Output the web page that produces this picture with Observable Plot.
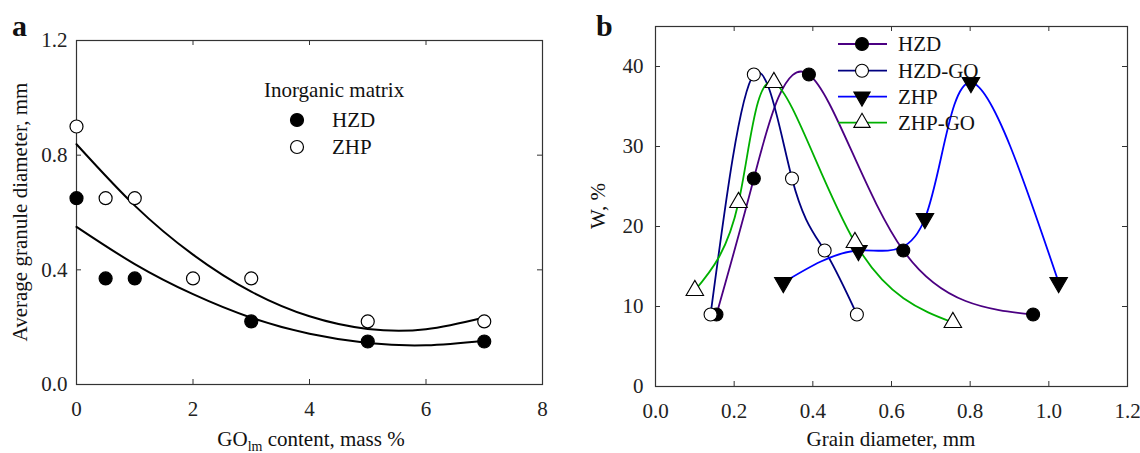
<!DOCTYPE html>
<html>
<head>
<meta charset="utf-8">
<script src="https://cdn.jsdelivr.net/npm/d3@7"></script>
<script src="https://cdn.jsdelivr.net/npm/@observablehq/plot@0.6"></script>
<style>
  html, body { margin: 0; padding: 0; background: #fff; }
  #wrap { display: flex; width: 1140px; height: 453px; }
  svg text { font-family: "Liberation Serif", "Times New Roman", serif; }
</style>
</head>
<body>
<div id="wrap"></div>
<script>
// ---------- Panel a data ----------
const aTicksX = [0, 2, 4, 6, 8];
const aTicksY = [0, 0.4, 0.8, 1.2];
const aHZD_x = [0, 0.5, 1, 3, 5, 7];
const aHZD_y = [0.65, 0.37, 0.37, 0.22, 0.15, 0.15];
const aZHP_x = [0, 0.5, 1, 2, 3, 5, 7];
const aZHP_y = [0.90, 0.65, 0.65, 0.37, 0.37, 0.22, 0.22];
// fitted trend curves
const fitX = [0, 1, 2, 3, 4, 5, 6, 7];
const fitHZD = [0.55, 0.42, 0.315, 0.233, 0.177, 0.145, 0.137, 0.153];
const fitZHP = [0.838, 0.624, 0.453, 0.324, 0.238, 0.194, 0.193, 0.234];

// ---------- Panel b data ----------
const bSeries = ["HZD", "HZD-GO", "ZHP", "ZHP-GO"];
const bTicksX = [0, 0.2, 0.4, 0.6, 0.8, 1.0, 1.2];
const bTicksY = [0, 10, 20, 30, 40];
const bHZD_x = [0.155, 0.25, 0.39, 0.63, 0.96];
const bHZD_y = [9, 26, 39, 17, 9];
const bHZDGO_x = [0.14, 0.25, 0.347, 0.43, 0.512];
const bHZDGO_y = [9, 39, 26, 17, 9];
const bZHP_x = [0.325, 0.516, 0.685, 0.802, 1.025];
const bZHP_y = [13, 17, 21, 38, 13];
const bZHPGO_x = [0.10, 0.211, 0.301, 0.507, 0.756];
const bZHPGO_y = [12, 23, 38, 18, 8];

const bColors = {"HZD": "#4B0082", "HZD-GO": "#000080", "ZHP": "#0000FF", "ZHP-GO": "#00B000"};
const bSymbols = {"HZD": "circle", "HZD-GO": "circle", "ZHP": "triangle", "ZHP-GO": "triangle"};
const bFill = {"HZD": "black", "HZD-GO": "white", "ZHP": "black", "ZHP-GO": "white"};
const bRotate = {"HZD": 0, "HZD-GO": 0, "ZHP": 180, "ZHP-GO": 0};

const zip = (xs, ys, extra) => xs.map((x, i) => ({x, y: ys[i], ...extra}));

const aPts = [...zip(aHZD_x, aHZD_y, {s: "HZD"}), ...zip(aZHP_x, aZHP_y, {s: "ZHP"})];
const aFit = [...zip(fitX, fitHZD, {s: "HZD"}), ...zip(fitX, fitZHP, {s: "ZHP"})];

const bData = [
  ...zip(bHZD_x, bHZD_y, {s: "HZD"}),
  ...zip(bHZDGO_x, bHZDGO_y, {s: "HZD-GO"}),
  ...zip(bZHP_x, bZHP_y, {s: "ZHP"}),
  ...zip(bZHPGO_x, bZHPGO_y, {s: "ZHP-GO"})
];

const FONT = "Liberation Serif, Times New Roman, serif";
const W = 570, H = 453;

function frameMarks(xt, yt, innerH, innerW, xfmt, yfmt, xpad, ypad) {
  const T = 5;
  return [
    Plot.frame({stroke: "#333", strokeWidth: 1.2}),
    Plot.tickX(xt, {x: d => d, insetTop: innerH - T, stroke: "#333"}),
    Plot.tickX(xt, {x: d => d, insetBottom: innerH - T, stroke: "#333"}),
    Plot.tickY(yt, {y: d => d, insetRight: innerW - T, stroke: "#333"}),
    Plot.tickY(yt, {y: d => d, insetLeft: innerW - T, stroke: "#333"}),
    Plot.axisX({ticks: xt, tickSize: 0, tickPadding: xpad, tickFormat: xfmt, label: null, fill: "#222"}),
    Plot.axisY({ticks: yt, tickSize: 0, tickPadding: ypad, tickFormat: yfmt, label: null, fill: "#222"})
  ];
}

// ---------- Panel a ----------
const aM = {left: 76, right: 28, top: 40, bottom: 69};
const aPlot = Plot.plot({
  width: W, height: H,
  marginLeft: aM.left, marginRight: aM.right, marginTop: aM.top, marginBottom: aM.bottom,
  style: {fontFamily: FONT, fontSize: "21px", background: "white", color: "#222", overflow: "visible"},
  x: {domain: [0, 8]},
  y: {domain: [0, 1.2]},
  marks: [
    ...frameMarks(aTicksX, aTicksY, H - aM.top - aM.bottom, W - aM.left - aM.right,
      d3.format("d"), d3.format(".1f"), 17, 9),
    Plot.line(aFit, {x: "x", y: "y", z: "s", curve: "natural", stroke: "black", strokeWidth: 2}),
    Plot.dot(aPts, {x: "x", y: "y", r: 6.5, stroke: "black", strokeWidth: 1.2,
      fill: d => d.s === "HZD" ? "black" : "white"})
  ]
});

// ---------- Panel b ----------
const bM = {left: 85, right: 13, top: 26, bottom: 67};
const bPlot = Plot.plot({
  width: W, height: H,
  marginLeft: bM.left, marginRight: bM.right, marginTop: bM.top, marginBottom: bM.bottom,
  style: {fontFamily: FONT, fontSize: "21px", background: "white", color: "#222", overflow: "visible"},
  x: {domain: [0, 1.2]},
  y: {domain: [0, 45]},
  marks: [
    ...frameMarks(bTicksX, bTicksY, H - bM.top - bM.bottom, W - bM.left - bM.right,
      d3.format(".1f"), d3.format("d"), 17, 12),
    Plot.line(bData, {x: "x", y: "y", z: "s", curve: "natural",
      stroke: d => bColors[d.s], strokeWidth: 1.8}),
    Plot.dot(bData, {x: "x", y: "y", r: 6.5, stroke: "black", strokeWidth: 1.1,
      symbol: d => bSymbols[d.s], fill: d => bFill[d.s], rotate: d => bRotate[d.s]})
  ]
});

// ---------- Annotations (titles, labels, legends) ----------
function addText(svg, x, y, str, opts = {}) {
  const t = d3.select(svg).append("text")
    .attr("x", x).attr("y", y)
    .attr("font-family", FONT)
    .attr("font-size", opts.size || 21)
    .attr("font-weight", opts.weight || "normal")
    .attr("text-anchor", opts.anchor || "start")
    .attr("fill", "#111")
    .text(str);
  if (opts.dy) t.attr("dy", opts.dy);
  if (opts.rotate) t.attr("transform", `rotate(${opts.rotate},${x},${y})`);
  return t;
}

// Panel a
addText(aPlot, 12, 36, "a", {size: 30, weight: "bold"});
addText(aPlot, 27, 212, "Average granule diameter, mm", {anchor: "middle", rotate: -90});
{
  const t = d3.select(aPlot).append("text")
    .attr("x", 311).attr("y", 446)
    .attr("font-family", FONT).attr("font-size", 21)
    .attr("text-anchor", "middle").attr("fill", "#111");
  t.append("tspan").text("GO");
  t.append("tspan").attr("font-size", 14).attr("dy", 5).text("lm");
  t.append("tspan").attr("dy", -5).text(" content, mass %");
}
addText(aPlot, 264, 97, "Inorganic matrix");
{
  const g = d3.select(aPlot).append("g");
  const items = [{s: "HZD", y: 120, fill: "black"}, {s: "ZHP", y: 147, fill: "white"}];
  items.forEach(it => {
    g.append("circle").attr("cx", 297).attr("cy", it.y).attr("r", 6.5)
      .attr("fill", it.fill).attr("stroke", "black").attr("stroke-width", 1.2);
    addText(aPlot, 332, it.y, it.s, {dy: "0.35em"});
  });
}

// Panel b
addText(bPlot, 26, 36, "b", {size: 30, weight: "bold"});
addText(bPlot, 35, 206, "W, %", {anchor: "middle", rotate: -90});
addText(bPlot, 321, 446, "Grain diameter, mm", {anchor: "middle"});
{
  const g = d3.select(bPlot).append("g");
  const rows = [44, 70.7, 96.7, 122.7];
  const sym = {
    circle: d3.symbol(d3.symbolCircle, 6.5 * 6.5 * Math.PI),
    triangle: d3.symbol(d3.symbolTriangle, Math.pow(6.5, 2) * 3 * Math.sqrt(3) / 4 * 2.1)
  };
  bSeries.forEach((s, i) => {
    const y = rows[i];
    g.append("line").attr("x1", 268).attr("x2", 317).attr("y1", y).attr("y2", y)
      .attr("stroke", bColors[s]).attr("stroke-width", 1.8);
    g.append("path").attr("d", sym[bSymbols[s]]())
      .attr("transform", `translate(292,${y}) rotate(${bRotate[s]})`)
      .attr("fill", bFill[s]).attr("stroke", "black").attr("stroke-width", 1.1);
    addText(bPlot, 328, y, s, {dy: "0.35em"});
  });
}

document.getElementById("wrap").append(aPlot, bPlot);
</script>
</body>
</html>
